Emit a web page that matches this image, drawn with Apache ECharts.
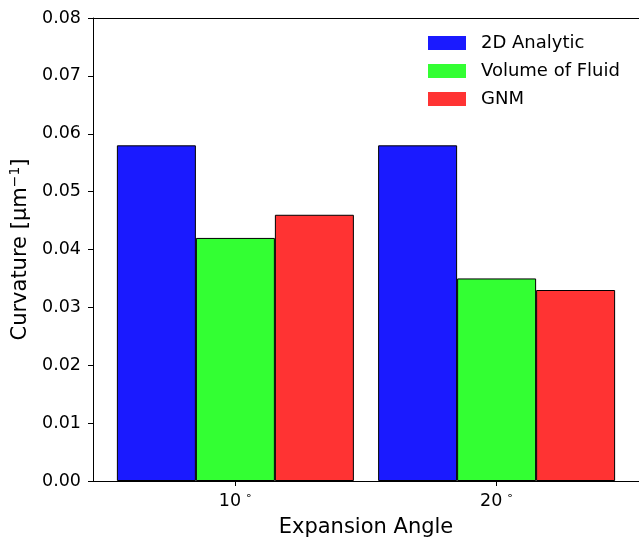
<!DOCTYPE html>
<html>
<head>
<meta charset="utf-8">
<script src="https://cdn.jsdelivr.net/npm/echarts@6/dist/echarts.min.js"></script>
<style>html,body{margin:0;padding:0;background:#fff;overflow:hidden}#c{width:639px;height:543px}</style>
</head>
<body>
<div id="c"></div>
<script>
const categories = ['10', '20'];
const seriesNames = ['2D Analytic', 'Volume of Fluid', 'GNM'];
const analytic = [0.058, 0.058];
const vof = [0.042, 0.035];
const gnm = [0.046, 0.033];
const yTicks = [0, 0.01, 0.02, 0.03, 0.04, 0.05, 0.06, 0.07, 0.08];
const colors = ['#1a1aff', '#33ff33', '#ff3333'];

const values = [analytic, vof, gnm];
const font = 'DejaVu Sans';
const chart = echarts.init(document.getElementById('c'));
const catIdx = categories.map((c, i) => i);

chart.setOption({
  animation: false,
  backgroundColor: '#fff',
  textStyle: { fontFamily: font, color: '#000' },
  grid: { left: 93, top: 18, right: -4, bottom: 58, containLabel: false },
  legend: {
    orient: 'vertical', left: 428, top: 33, padding: 0,
    itemWidth: 38, itemHeight: 14, itemGap: 8,
    icon: 'rect',
    itemStyle: { borderWidth: 0 },
    textStyle: { fontFamily: font, fontSize: 18, color: '#000', lineHeight: 20, padding: [0, 0, 0, 10] },
    data: seriesNames
  },
  xAxis: [{
    type: 'value', min: -0.545, max: 1.545,
    name: 'Expansion Angle', nameLocation: 'middle', nameGap: 36,
    nameTextStyle: { fontFamily: font, fontSize: 21, color: '#000' },
    axisLine: { show: true, onZero: false, lineStyle: { color: '#000', width: 1 } },
    axisTick: { show: true, customValues: catIdx, length: 5, lineStyle: { color: '#000' } },
    axisLabel: {
      customValues: catIdx, margin: 10,
      formatter: v => '{n|' + categories[Math.round(v)] + '}{d|∘}',
      rich: {
        n: { fontFamily: font, fontSize: 17.5, color: '#000' },
        d: { fontFamily: font, fontSize: 11, color: '#000', padding: [0, 0, 10, 4] }
      }
    },
    splitLine: { show: false }
  }, {
    type: 'value', position: 'top', min: -0.545, max: 1.545,
    axisLine: { show: true, onZero: false, lineStyle: { color: '#000', width: 1 } },
    axisTick: { show: false }, axisLabel: { show: false }, splitLine: { show: false }
  }],
  yAxis: {
    type: 'value', min: 0, max: 0.08, interval: 0.01,
    name: 'Curvature [μm{s|−1}]', nameLocation: 'middle', nameGap: 60, nameRotate: 90,
    nameTextStyle: { fontFamily: font, fontSize: 21, color: '#000',
      rich: { s: { fontFamily: font, fontSize: 14, color: '#000', padding: [0, 0, 10, 0] } } },
    axisLine: { show: true, onZero: false, lineStyle: { color: '#000', width: 1 } },
    axisTick: { show: true, length: 5, lineStyle: { color: '#000' } },
    axisLabel: { fontFamily: font, fontSize: 17.5, color: '#000', margin: 12,
      customValues: yTicks, formatter: v => v.toFixed(2) },
    splitLine: { show: false }
  },
  series: seriesNames.map((name, s) => ({
    type: 'bar', name,
    barWidth: 79, barGap: '0%',
    itemStyle: { color: colors[s], borderColor: '#000', borderWidth: 1 },
    data: values[s].map((v, i) => [catIdx[i], v])
  }))
});
</script>
</body>
</html>
